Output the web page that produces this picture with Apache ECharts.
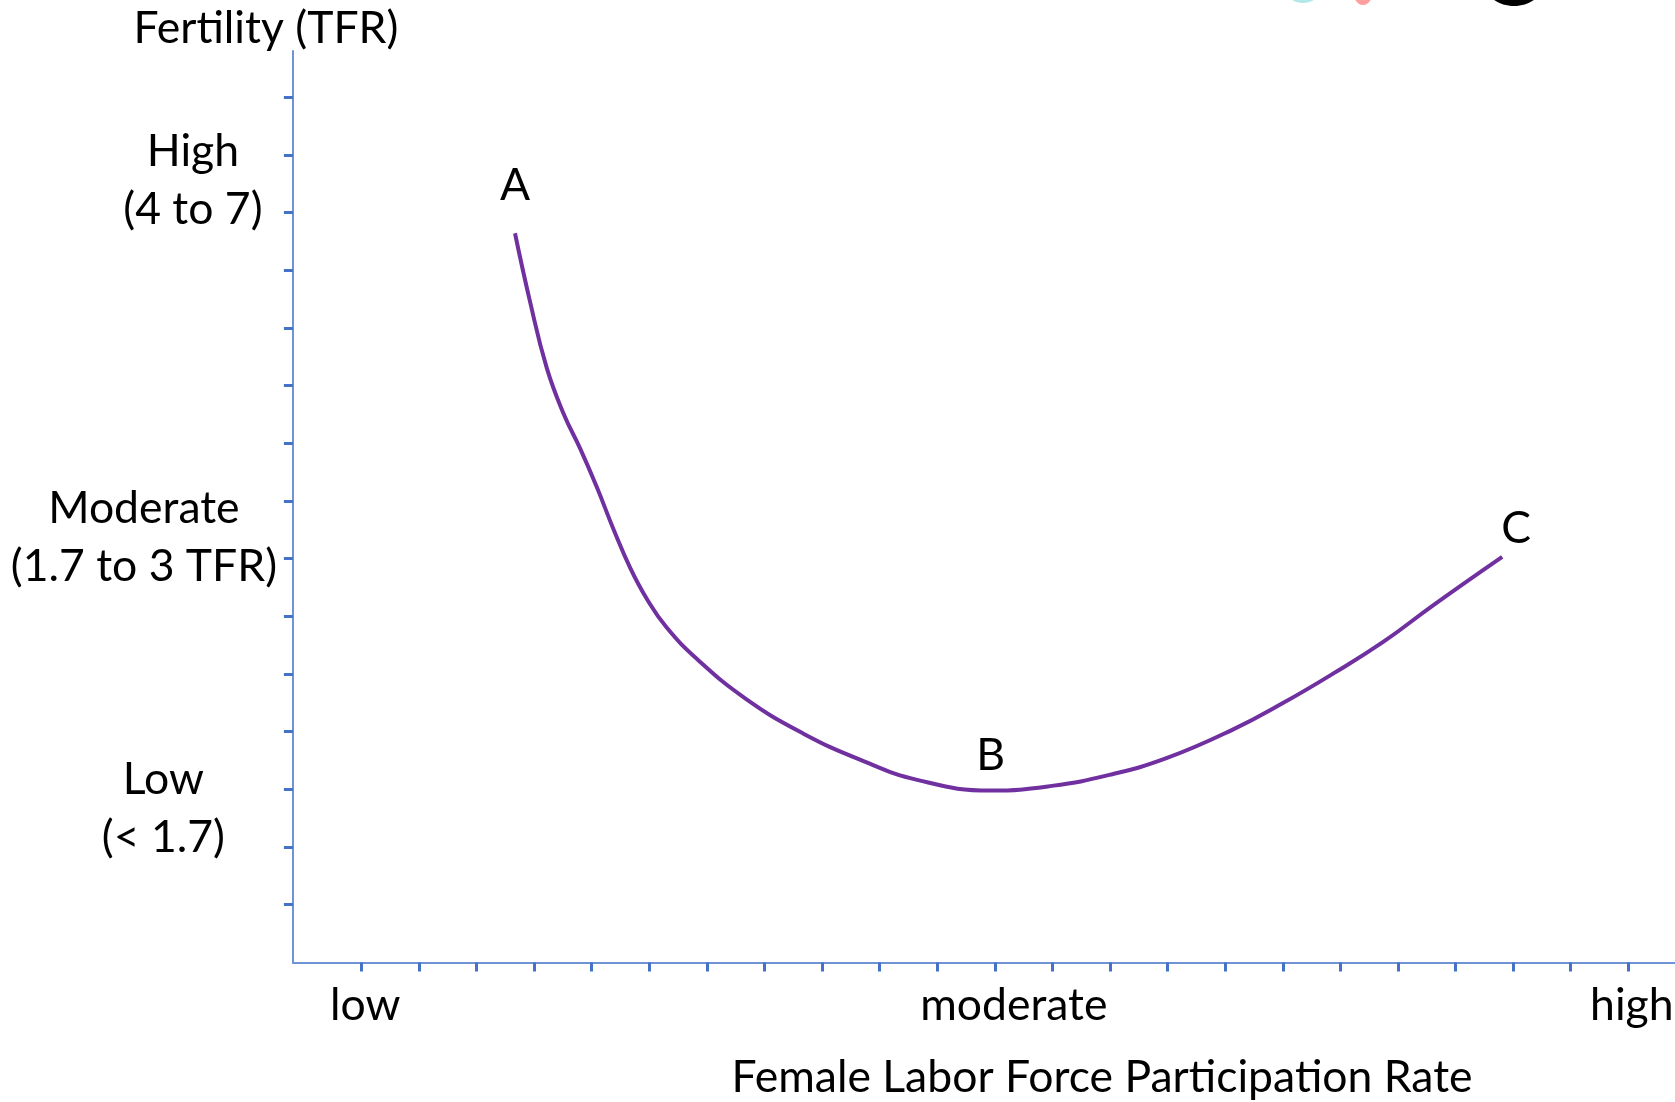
<!DOCTYPE html>
<html>
<head>
<meta charset="utf-8">
<title>Fertility vs Female Labor Force Participation</title>
<script src="https://cdn.jsdelivr.net/npm/echarts@6.0.0/dist/echarts.min.js"></script>
<style>
  html, body { margin: 0; padding: 0; background: #fff; }
  #chart { width: 1675px; height: 1102px; }
</style>
</head>
<body>
<div id="chart"></div>
<script>
// axis units: one unit = one tick step
const xTicks = [1, 2, 3, 4, 5, 6, 7, 8, 9, 10, 11, 12, 13, 14, 15, 16, 17, 18, 19, 20, 21, 22, 23]
const yTicks = [1, 2, 3, 4, 5, 6, 7, 8, 9, 10, 11, 12, 13, 14, 15]

const xLabelText = ['low', 'moderate', 'high']
const xLabelAt = [1.07, 12.33, 23.06]

const yLabelText = ['High\n(4 to 7)', 'Moderate\n(1.7 to 3 TFR)', 'Low\n(< 1.7)']
const yLabelAt = [13.55, 7.36, 2.66]

// the curve
const curveX = [3.67, 3.93, 4.22, 4.51, 4.8, 5.09, 5.38, 5.67, 5.96, 6.3, 6.83, 7.69, 8.67, 9.67, 10.67, 11.93, 12.99, 13.99, 14.98, 16.14, 17.01, 17.88, 18.75, 19.61, 20.81]
const curveY = [12.64, 11.46, 10.31, 9.52, 8.91, 8.24, 7.51, 6.84, 6.3, 5.81, 5.26, 4.56, 3.97, 3.51, 3.16, 2.98, 3.06, 3.25, 3.54, 4.04, 4.5, 5.01, 5.56, 6.19, 7.03]

const pointNames = ['A', 'B', 'C']
const pointIdx = [0, 15, 24]

const FONT = 'Lato'
const FS = 44.5
const LH = 53
const AXIS_LINE = '#6F93D6'
const AXIS_TICK = '#4472C4'
const CURVE = '#7030A0'

// label placement for A, B, C
const pointLabelPos = [
  { distance: 21, offset: [0, 0] },
  { distance: 8, offset: [0, 0] },
  { distance: 2, offset: [14, 0] }
]

const nearest = (arr, v) => {
  let best = 0
  arr.forEach((a, i) => {
    if (Math.abs(a - v) < Math.abs(arr[best] - v)) best = i
  })
  return best
}

const textBase = { fontFamily: FONT, fontSize: FS, lineHeight: LH, color: '#000' }
const yRichKeys = ['hi', 'mod', 'lo']

const curveData = curveX.map((x, i) => {
  const item = { value: [x, curveY[i]] }
  const p = pointIdx.indexOf(i)
  if (p >= 0) {
    item.label = {
      show: true,
      position: 'top',
      formatter: pointNames[p],
      distance: pointLabelPos[p].distance,
      offset: pointLabelPos[p].offset,
      ...textBase
    }
  }
  return item
})

const chart = echarts.init(document.getElementById('chart'))

chart.setOption({
  animation: false,
  backgroundColor: '#fff',
  grid: {
    left: 292.9,
    right: 0,
    top: 51,
    bottom: 139.6,
    containLabel: false,
    outerBoundsMode: 'none'
  },
  xAxis: {
    type: 'value',
    min: -0.186,
    max: 23.81,
    name: 'Female Labor Force Participation Rate',
    nameLocation: 'middle',
    nameGap: 89,
    nameMoveOverlap: false,
    nameTextStyle: { ...textBase, padding: [0, 0, 0, 236] },
    splitLine: { show: false },
    axisLine: { onZero: false, lineStyle: { color: AXIS_LINE, width: 2 } },
    axisTick: {
      customValues: xTicks,
      length: 9,
      lineStyle: { color: AXIS_TICK, width: 3 }
    },
    axisLabel: {
      customValues: xLabelAt,
      margin: 17,
      ...textBase,
      formatter: (v) => xLabelText[nearest(xLabelAt, v)]
    }
  },
  yAxis: {
    type: 'value',
    min: 0,
    max: 15.8,
    name: 'Fertility (TFR)',
    nameLocation: 'end',
    nameGap: -4,
    nameMoveOverlap: false,
    nameTextStyle: { ...textBase, padding: [0, 54, 0, 0] },
    splitLine: { show: false },
    axisLine: { onZero: false, lineStyle: { color: AXIS_LINE, width: 2 } },
    axisTick: {
      customValues: yTicks,
      length: 9,
      lineStyle: { color: AXIS_TICK, width: 3 }
    },
    axisLabel: {
      customValues: yLabelAt,
      margin: 100,
      align: 'center',
      verticalAlign: 'middle',
      ...textBase,
      formatter: (v) => {
        const i = nearest(yLabelAt, v)
        const key = yRichKeys[i]
        return yLabelText[i].split('\n').map((s) => '{' + key + '|' + s + '}').join('\n')
      },
      rich: {
        hi: { ...textBase, lineHeight: 57.7, align: 'center' },
        mod: { ...textBase, lineHeight: 57.7, align: 'center', padding: [0, 98, 0, 0] },
        lo: { ...textBase, lineHeight: 57.7, align: 'center', padding: [0, 59, 0, 0] }
      }
    }
  },
  series: [
    {
      type: 'line',
      data: curveData,
      smooth: 0.45,
      symbol: 'circle',
      symbolSize: 0,
      showSymbol: true,
      lineStyle: { color: CURVE, width: 4 },
      itemStyle: { color: CURVE },
      label: { show: false },
      emphasis: { disabled: true }
    }
  ],
  // bits of a logo cut off at the top edge
  graphic: [
    { type: 'ellipse', shape: { cx: 1303, cy: -10, rx: 17, ry: 13 }, style: { fill: '#B2E8E8' } },
    { type: 'ellipse', shape: { cx: 1363, cy: -9, rx: 10, ry: 14 }, style: { fill: '#FF9E9E' } },
    { type: 'ellipse', shape: { cx: 1514, cy: -18, rx: 30, ry: 24 }, style: { fill: '#000' } }
  ]
})
</script>
</body>
</html>
